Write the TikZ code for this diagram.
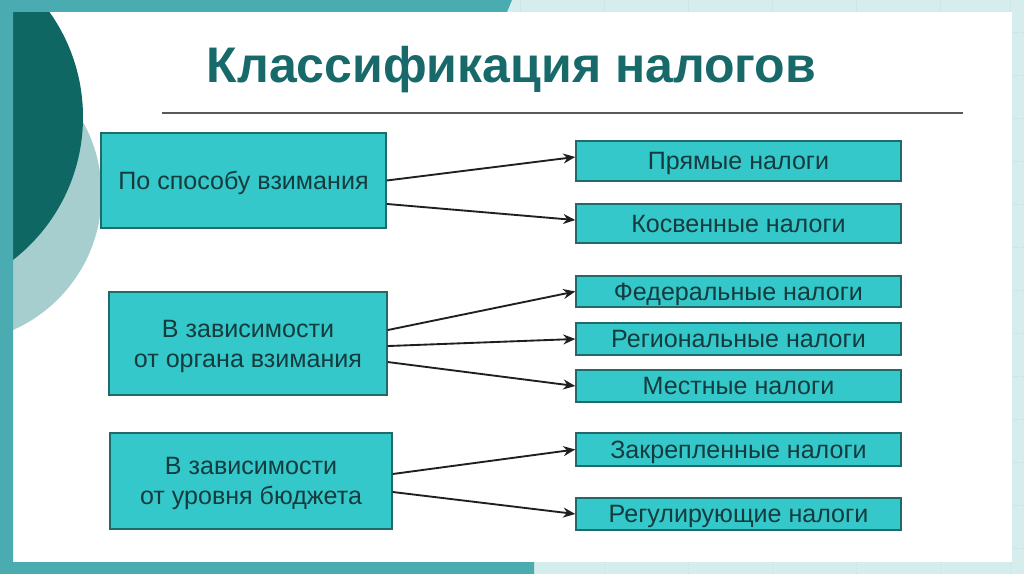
\documentclass[tikz,border=0pt]{standalone}
\usepackage{fontspec}
\setmainfont{Liberation Sans}
\usetikzlibrary{arrows.meta}
\definecolor{bandteal}{HTML}{4AACB0}
\definecolor{lightbg}{HTML}{D5EDED}
\definecolor{gridc}{HTML}{C6E0E0}
\definecolor{darkc}{HTML}{0F6764}
\definecolor{lightc}{HTML}{A7CECF}
\definecolor{boxfill}{HTML}{35C8CA}
\definecolor{boxedge}{HTML}{22696A}
\definecolor{txt}{HTML}{143B3D}
\definecolor{titlec}{HTML}{17696A}
\begin{document}
\begin{tikzpicture}[x=0.75pt,y=-0.75pt,
  lbox/.style={draw=boxedge,fill=boxfill,line width=1.1pt,text=txt,
    font=\fontsize{18.8}{22.5}\selectfont,align=center,inner sep=0pt,text depth=0pt},
  rbox/.style={lbox,minimum width=243.75pt},
  conn/.style={draw=black!88,line width=1.4pt,-{Stealth[length=9pt,width=7.5pt]}}]
\useasboundingbox (0,0) rectangle (1024,574);
% background and frame
\fill[lightbg] (0,0) rectangle (1024,574);
\foreach \gx in {520,604,688,772,856,940,1010}{
  \draw[gridc,densely dotted,line width=0.6pt] (\gx,0) -- (\gx,12);
  \draw[gridc,densely dotted,line width=0.6pt] (\gx,562) -- (\gx,574);}
\foreach \gy in {32,75,118,161,204,247,290,333,376,419,462,505,548}{
  \draw[gridc,densely dotted,line width=0.6pt] (1012,\gy) -- (1024,\gy);}
\fill[white] (13,12) rectangle (1012,562);
\begin{scope}
  \clip (13,12) rectangle (1012,562);
  \fill[lightc] (-47,194) circle[radius=111.45pt];
  \fill[darkc] (-98,117) circle[radius=135.75pt];
\end{scope}
\fill[bandteal] (0,0) -- (512,0) -- (507,12) -- (13,12) -- (13,562) -- (534,562) -- (534,574) -- (0,574) -- cycle;
% title
\node[anchor=base,text=titlec,font=\fontsize{37.5}{44}\selectfont\bfseries,inner sep=0pt] (title) at (511.5,83) {Классификация налогов};
\draw[black!65,line width=1.7pt] (162,113) -- (963,113);
% left boxes
\node[lbox,minimum width=213.75pt,minimum height=71.25pt] (l1) at (243.5,180.5) {По способу взимания};
\node[lbox,minimum width=208.5pt,minimum height=77.25pt] (l2) at (248,343.5) {В зависимости\\от органа взимания};
\node[lbox,minimum width=211.5pt,minimum height=72pt] (l3) at (251,481) {В зависимости\\от уровня бюджета};
% right boxes
\node[rbox,minimum height=30pt] (r1) at (738.5,161) {Прямые налоги};
\node[rbox,minimum height=29.25pt] (r2) at (738.5,223.5) {Косвенные налоги};
\node[rbox,minimum height=23.25pt] (r3) at (738.5,291.5) {Федеральные налоги};
\node[rbox,minimum height=24pt] (r4) at (738.5,339) {Региональные налоги};
\node[rbox,minimum height=24pt] (r5) at (738.5,386) {Местные налоги};
\node[rbox,minimum height=24.75pt] (r6) at (738.5,449.5) {Закрепленные налоги};
\node[rbox,minimum height=24pt] (r7) at (738.5,514) {Регулирующие налоги};
% connectors
\draw[conn] (l1.east) -- ([yshift=3pt]r1.west);
\draw[conn] ([yshift=-17.6pt]l1.east) -- ([yshift=2.6pt]r2.west);
\draw[conn] ([yshift=10.1pt]l2.east) -- (r3.west);
\draw[conn] ([yshift=-1.9pt]l2.east) -- (r4.west);
\draw[conn] ([yshift=-13.9pt]l2.east) -- (r5.west);
\draw[conn] ([yshift=5.25pt]l3.east) -- (r6.west);
\draw[conn] ([yshift=-8.25pt]l3.east) -- (r7.west);
\end{tikzpicture}
\end{document}
